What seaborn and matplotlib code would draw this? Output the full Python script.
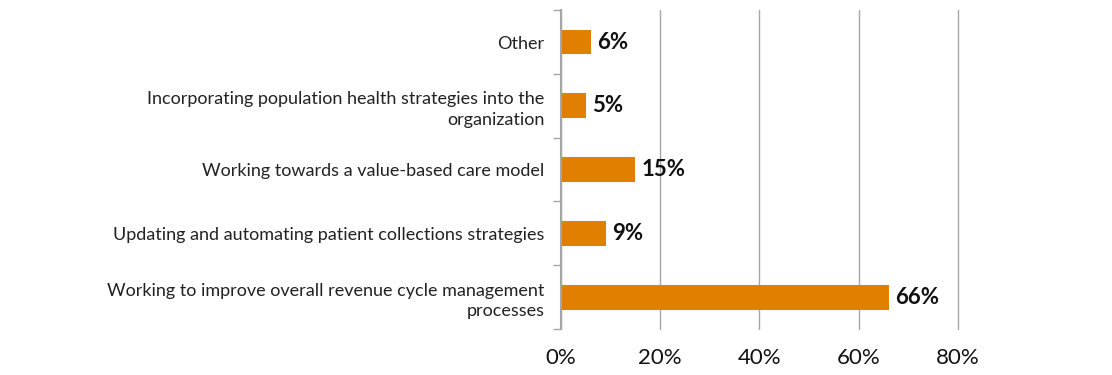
import matplotlib
matplotlib.use('Agg')
import matplotlib.pyplot as plt
import seaborn as sns
import pandas as pd
import numpy as np

# chart data
categories = [
    'Other',
    'Incorporating population health strategies into the\norganization',
    'Working towards a value-based care model',
    'Updating and automating patient collections strategies',
    'Working to improve overall revenue cycle management\nprocesses',
]
values = [6, 5, 15, 9, 66]
x_ticks = [0, 20, 40, 60, 80]

df = pd.DataFrame({'category': categories, 'value': values})

sns.set_style('white')
plt.rcParams['font.family'] = ['Lato', 'DejaVu Sans']

fig = plt.figure(figsize=(11.12, 3.75), dpi=100)
ax = fig.add_axes([0.5045, 0.1227, 0.357, 0.8503])

sns.barplot(data=df, y='category', x='value', orient='h', color='#E07F00',
            saturation=1, width=0.39, linewidth=0, ax=ax)

# value labels
for i, v in enumerate(values):
    ax.text(v + 1.3, i, f'{v}%', va='center', ha='left', fontsize=16,
            fontweight='bold', color='#111111')

ax.set_xlim(0, 80)
ax.set_ylim(4.5, -0.5)
ax.set_xticks(x_ticks)
ax.set_xticklabels([f'{t}%' for t in x_ticks], fontsize=16, color='#111111')
ax.tick_params(axis='x', length=0, pad=14)
ax.grid(axis='x', color='#a6a6a6', linewidth=1)
for gl in ax.get_xgridlines():
    gl.set_clip_on(False)
ax.set_axisbelow(True)

# category labels at centers, tick marks at boundaries
ax.set_yticks(np.arange(-0.5, 5, 1))
ax.set_yticklabels([])
ax.set_yticks(np.arange(0, 5), minor=True)
ax.set_yticklabels(categories, minor=True, fontsize=13, color='#222222',
                   linespacing=1.35)
ax.tick_params(axis='y', which='major', length=6, color='#a6a6a6', width=1, left=True)
ax.tick_params(axis='y', which='minor', length=0, pad=12)

ax.set_xlabel('')
ax.set_ylabel('')
for s in ['top', 'right', 'bottom']:
    ax.spines[s].set_visible(False)
ax.spines['left'].set_color('#a6a6a6')
ax.spines['left'].set_linewidth(1.5)

fig.savefig('out.png', dpi=100)
